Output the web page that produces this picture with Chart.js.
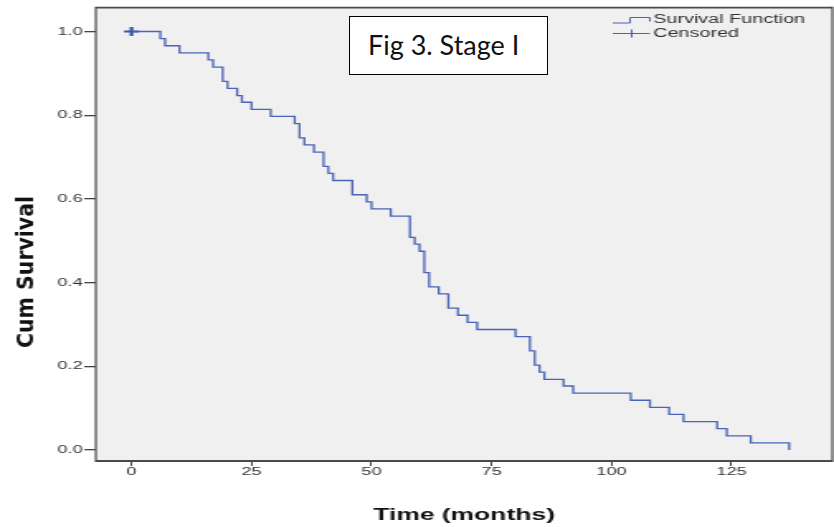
<!DOCTYPE html>
<html>
<head>
<meta charset="utf-8">
<script src="https://cdn.jsdelivr.net/npm/chart.js@4.4.0/dist/chart.umd.min.js"></script>
<style>
html,body{margin:0;padding:0;background:#fff;}
#wrap{position:relative;width:834px;height:527px;overflow:hidden;background:#fff;}
#c{position:absolute;left:0;top:0;}
#fig{position:absolute;left:349px;top:16px;width:199px;height:59px;box-sizing:border-box;border:1px solid #000;background:#fff;
 font-family:Lato,"Open Sans",sans-serif;font-size:27px;color:#111;display:flex;align-items:center;padding-left:18px;padding-bottom:2px;}
</style>
</head>
<body>
<div id="wrap">
<canvas id="c" width="505" height="527" style="width:834px;height:527px;"></canvas>
<div id="fig">Fig 3. Stage I</div>
</div>
<script>
// ---- data ----
const months = [0, 6, 7, 10, 16, 17, 19, 20, 22, 23, 25, 29, 34, 35, 36, 38, 40, 41, 42, 46,
  49, 50, 54, 58, 59, 60, 61, 62, 64, 66, 68, 70, 72, 80, 83, 84, 85, 86, 90, 92,
  104, 108, 112, 115, 122, 124, 129, 137];
const survival = [1.000, 0.983, 0.966, 0.949, 0.932, 0.915, 0.881, 0.864, 0.847, 0.831,
  0.814, 0.797, 0.780, 0.746, 0.729, 0.712, 0.678, 0.661, 0.644, 0.610,
  0.593, 0.576, 0.559, 0.508, 0.492, 0.475, 0.424, 0.390, 0.373, 0.339,
  0.322, 0.305, 0.288, 0.271, 0.237, 0.203, 0.186, 0.169, 0.153, 0.136,
  0.119, 0.102, 0.085, 0.068, 0.051, 0.034, 0.017, 0.000];
const censoredMonths = [0];
const censoredSurvival = [1.0];
const xTicks = [0, 25, 50, 75, 100, 125];
const yTicks = [0.0, 0.2, 0.4, 0.6, 0.8, 1.0];
const seriesLabels = ["Survival Function", "Censored"];
const xTitle = "Time (months)";
const yTitle = "Cum Survival";

const lineColor = "#4a63b6";
const tickFont = {family: '"Liberation Sans", Arial, sans-serif', size: 11};

const frame = {
  id: 'frame',
  beforeDraw(chart) {
    const {ctx, chartArea: a} = chart;
    ctx.save();
    ctx.fillStyle = '#f0f0f0';
    ctx.fillRect(a.left, a.top, a.right - a.left, a.bottom - a.top);
    ctx.restore();
  },
  afterDraw(chart) {
    const {ctx, chartArea: a} = chart;
    ctx.save();
    ctx.strokeStyle = '#4a4a4a';
    ctx.lineWidth = 1.8;
    ctx.beginPath();
    ctx.moveTo(a.left, a.top); ctx.lineTo(a.right, a.top);
    ctx.moveTo(a.left, a.bottom); ctx.lineTo(a.right, a.bottom);
    ctx.stroke();
    ctx.lineWidth = 1.2;
    ctx.beginPath();
    ctx.moveTo(a.left, a.top - 0.9); ctx.lineTo(a.left, a.bottom + 0.9);
    ctx.moveTo(a.right, a.top - 0.9); ctx.lineTo(a.right, a.bottom + 0.9);
    ctx.stroke();

    // legend
    ctx.strokeStyle = lineColor;
    ctx.lineWidth = 1;
    ctx.beginPath();
    ctx.moveTo(371, 23); ctx.lineTo(381.5, 23); ctx.lineTo(381.5, 17.5);
    ctx.lineTo(393.5, 17.5); ctx.lineTo(393.5, 21.5);
    ctx.stroke();
    ctx.beginPath();
    ctx.moveTo(371, 33.5); ctx.lineTo(393.5, 33.5);
    ctx.moveTo(382.5, 29.5); ctx.lineTo(382.5, 37.5);
    ctx.stroke();
    ctx.fillStyle = '#333';
    ctx.font = '12px "Liberation Sans", Arial, sans-serif';
    ctx.textBaseline = 'middle';
    ctx.textAlign = 'left';
    ctx.fillText(chart.data.datasets[0].label, 395.5, 20);
    ctx.fillText(chart.data.datasets[1].label, 395.5, 34);

    // y axis title
    ctx.translate(15.9, 272);
    ctx.rotate(-Math.PI / 2);
    ctx.font = 'bold 14px "Liberation Sans Narrow", "DejaVu Sans Condensed", "Liberation Sans", sans-serif';
    const w = ctx.measureText(yTitle).width;
    ctx.scale(152 / w, 1);
    ctx.textAlign = 'center';
    ctx.fillStyle = '#111';
    ctx.fillText(yTitle, 0, 0);
    ctx.restore();
  }
};

new Chart(document.getElementById('c'), {
  type: 'line',
  data: {
    datasets: [
      {
        label: seriesLabels[0],
        data: months.map((m, i) => ({x: m, y: survival[i]})),
        stepped: true,
        borderColor: lineColor,
        borderWidth: 1.3,
        pointRadius: 0,
        pointHoverRadius: 0,
        fill: false
      },
      {
        label: seriesLabels[1],
        data: censoredMonths.map((m, i) => ({x: m, y: censoredSurvival[i]})),
        showLine: false,
        pointStyle: 'cross',
        pointRadius: 4.5,
        borderColor: '#3b55a8',
        borderWidth: 2.2,
        backgroundColor: '#3b55a8'
      }
    ]
  },
  options: {
    responsive: false,
    animation: false,
    events: [],
    layout: {autoPadding: false, padding: {top: 6, right: 1, left: 0, bottom: 0}},
    plugins: {legend: {display: false}, tooltip: {enabled: false}},
    scales: {
      x: {
        type: 'linear', min: -7.44, max: 146.0,
        afterBuildTicks: s => { s.ticks = xTicks.map(v => ({value: v})); },
        afterFit: s => { s.height = 66; },
        grid: {drawOnChartArea: false, drawTicks: true, tickLength: 5, color: '#444', lineWidth: 1},
        border: {display: false},
        ticks: {font: tickFont, color: '#333', padding: -1, maxRotation: 0, autoSkip: false},
        title: {display: true, text: xTitle, color: '#111',
          font: {family: '"Liberation Sans", Arial, sans-serif', size: 16, weight: 'bold'},
          padding: {top: 0, bottom: 2}}
      },
      y: {
        type: 'linear', min: -0.02619, max: 1.05714,
        afterBuildTicks: s => { s.ticks = yTicks.map(v => ({value: v})); },
        afterFit: s => { s.width = 58; },
        grid: {drawOnChartArea: false, drawTicks: true, tickLength: 7, color: '#444', lineWidth: 1.3},
        border: {display: false},
        ticks: {font: tickFont, color: '#333', padding: 1, callback: v => Number(v).toFixed(1)}
      }
    }
  },
  plugins: [frame]
});
</script>
</body>
</html>
